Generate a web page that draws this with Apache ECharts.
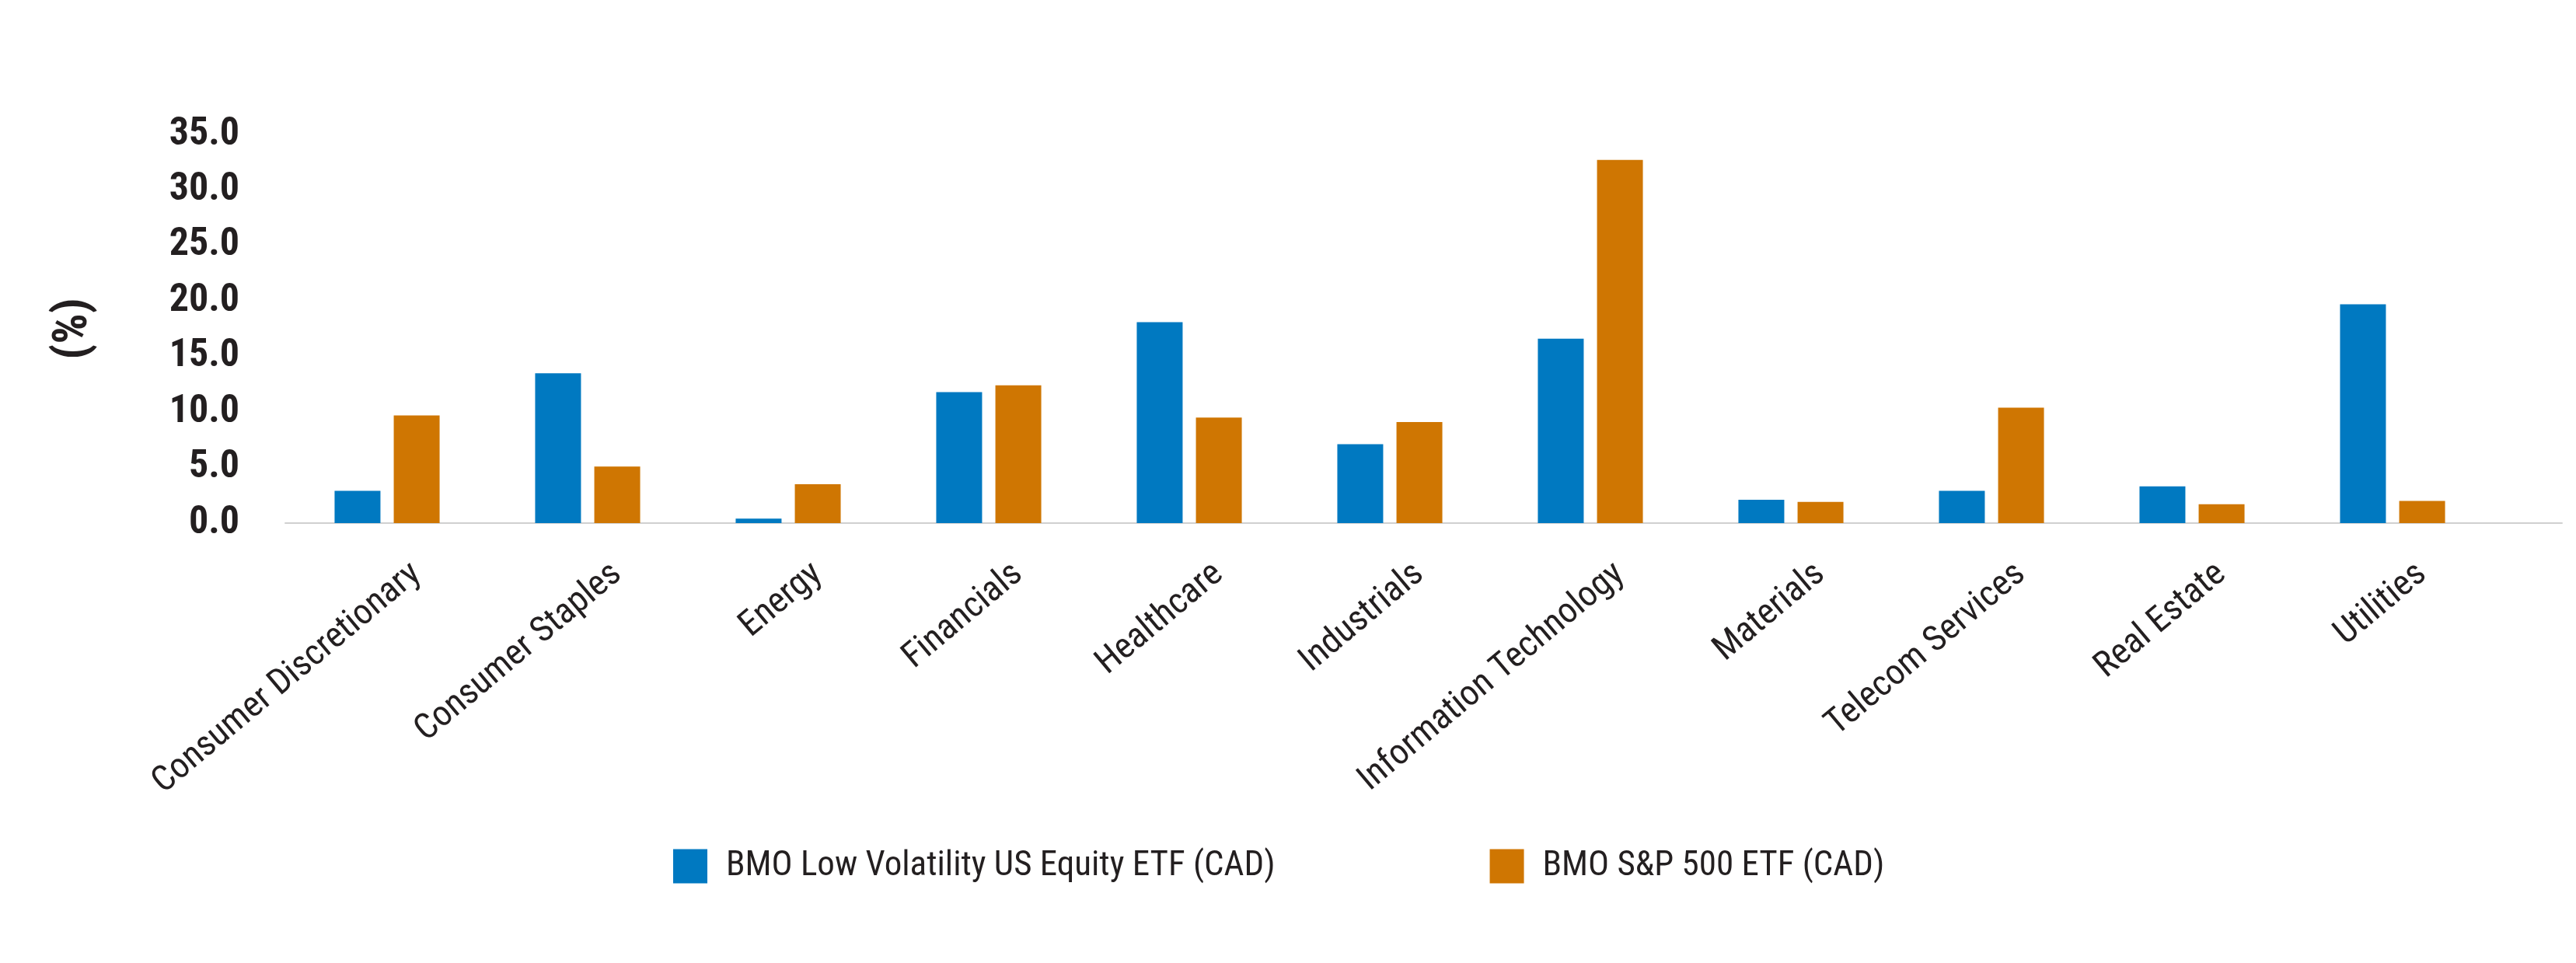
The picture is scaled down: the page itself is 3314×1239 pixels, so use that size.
<!DOCTYPE html>
<html>
<head>
<meta charset="utf-8">
<script src="https://cdn.jsdelivr.net/npm/echarts@6/dist/echarts.min.js"></script>
<style>
html,body{margin:0;padding:0;background:#fff;}
#chart{width:3314px;height:1239px;}
</style>
</head>
<body>
<div id="chart"></div>
<script>
const categories = ["Consumer Discretionary","Consumer Staples","Energy","Financials","Healthcare","Industrials","Information Technology","Materials","Telecom Services","Real Estate","Utilities"];
const lowVol = [2.9, 13.5, 0.4, 11.8, 18.1, 7.1, 16.6, 2.1, 2.9, 3.3, 19.7];
const sp500 = [9.7, 5.1, 3.5, 12.4, 9.5, 9.1, 32.7, 1.9, 10.4, 1.7, 2.0];
const seriesNames = ["BMO Low Volatility US Equity ETF (CAD)", "BMO S&P 500 ETF (CAD)"];
const yTicks = [0, 5, 10, 15, 20, 25, 30, 35];

const FONT = "'Roboto Condensed', 'DejaVu Sans Condensed', sans-serif";
const TXT = '#231F20';
const chart = echarts.init(document.getElementById('chart'));
chart.setOption({
  animation: false,
  backgroundColor: '#ffffff',
  color: ['#0079C1', '#CF7602'],
  grid: [
    { left: 369, right: 107, top: 173, bottom: 566, containLabel: false },
    { left: 367, right: 18, top: 173, bottom: 566, containLabel: false }
  ],
  legend: {
    data: seriesNames,
    left: 861,
    top: 1087,
    itemWidth: 44,
    itemHeight: 44,
    itemGap: 276,
    icon: 'rect',
    textStyle: { fontFamily: FONT, fontSize: 45, color: TXT, padding: [0, 0, 0, 19] }
  },
  xAxis: [
    {
      type: 'category',
      gridIndex: 0,
      data: categories,
      axisLine: { show: false },
      axisTick: { show: false },
      axisLabel: { rotate: 40, interval: 0, margin: 15, verticalAlign: 'top', padding: [36, 0, 0, 0],
        fontFamily: FONT, fontSize: 46, color: TXT }
    },
    {
      type: 'value',
      gridIndex: 1,
      min: 0, max: 1,
      axisLine: { show: true, lineStyle: { color: '#d0d0d0', width: 2 } },
      axisTick: { show: false },
      axisLabel: { show: false },
      splitLine: { show: false }
    }
  ],
  yAxis: [
    {
      type: 'value',
      gridIndex: 0,
      min: yTicks[0],
      max: yTicks[yTicks.length - 1],
      interval: 5,
      name: '(%)',
      nameLocation: 'middle',
      nameGap: 243,
      nameRotate: 90,
      nameTextStyle: { fontFamily: FONT, fontSize: 62, fontWeight: 'bold', color: TXT },
      axisLine: { show: false },
      axisTick: { show: false },
      splitLine: { show: false },
      axisLabel: { margin: 61, fontFamily: FONT, fontSize: 50, fontWeight: 'bold', color: TXT,
        formatter: v => v.toFixed(1) }
    },
    {
      type: 'value',
      gridIndex: 1,
      show: false,
      min: 0, max: 1
    }
  ],
  series: [
    { name: seriesNames[0], type: 'bar', data: lowVol, barWidth: 59, barGap: '29%' },
    { name: seriesNames[1], type: 'bar', data: sp500, barWidth: 59, barGap: '29%' }
  ]
});
</script>
</body>
</html>
